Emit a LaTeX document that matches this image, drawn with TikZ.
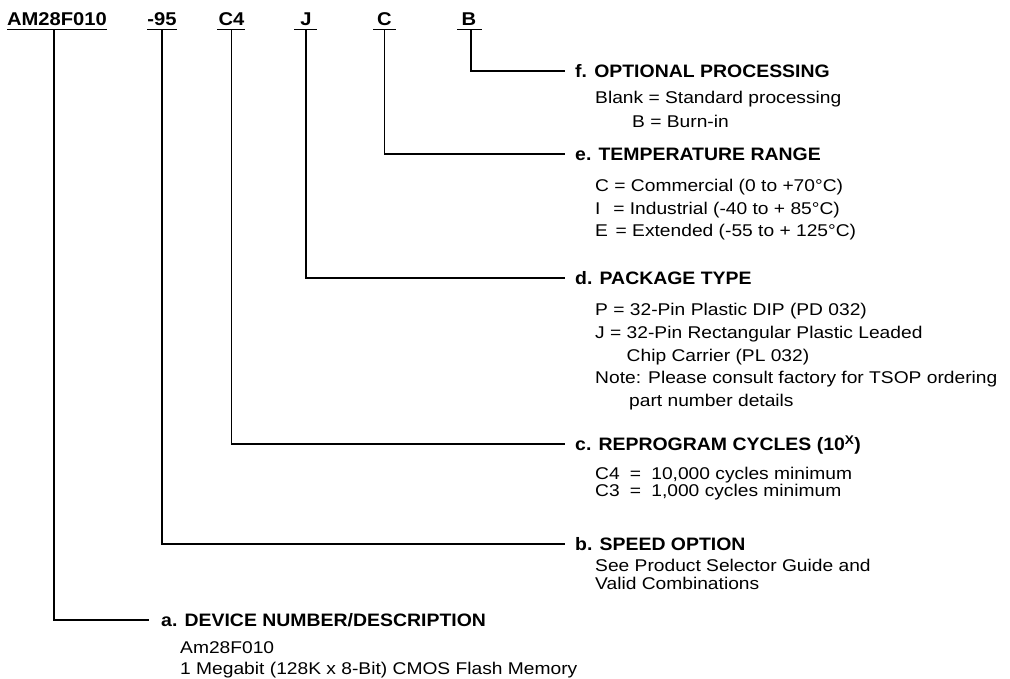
\documentclass[tikz,border=0pt]{standalone}
\usepackage{fontspec}
\setmainfont{Liberation Sans}
\newfontfamily\bodyfont{Liberation Sans}[FakeStretch=1.13]
\newfontfamily\headfont{Liberation Sans}[FakeStretch=1.08]
\newfontfamily\codefont{Liberation Sans}[FakeStretch=1.09]
\begin{document}
\begin{tikzpicture}[x=1pt,y=-1pt,
  code/.style={font=\codefont\bfseries\fontsize{18.5}{20}\selectfont, inner sep=0pt, text height=13.2pt, text depth=0pt, anchor=center},
  head/.style={font=\headfont\bfseries\fontsize{18}{20}\selectfont, inner sep=0pt, text height=12.9pt, text depth=0pt, anchor=west},
  body/.style={font=\bodyfont\fontsize{17}{19}\selectfont, inner sep=0pt, text height=12.2pt, text depth=0pt, anchor=west},
  lead/.style={line width=1.7pt, line cap=rect},
  uline/.style={line width=1.7pt}]
\useasboundingbox (0,0) rectangle (1010,678);

% part-number codes
\node[code] (cA)  at (57,18.5)    {AM28F010};
\node[code] (c95) at (162,18.5)   {-95};
\node[code] (cC4) at (231.5,18.5) {C4};
\node[code] (cJ)  at (306,18.5)   {J};
\node[code] (cC)  at (384.5,18.5) {C};
\node[code] (cB)  at (469,18.5)   {B};

% underlines
\coordinate (uA1) at (7,29.5);   \coordinate (uA2) at (107,29.5);
\coordinate (u951) at (147,29.5); \coordinate (u952) at (177,29.5);
\coordinate (uC41) at (217,29.5); \coordinate (uC42) at (245,29.5);
\coordinate (uJ1) at (294,29.5);  \coordinate (uJ2) at (317,29.5);
\coordinate (uC1) at (373,29.5);  \coordinate (uC2) at (396,29.5);
\coordinate (uB1) at (457,29.5);  \coordinate (uB2) at (482,29.5);
\draw[uline] (uA1) -- (uA2);
\draw[uline] (u951) -- (u952);
\draw[uline] (uC41) -- (uC42);
\draw[uline] (uJ1) -- (uJ2);
\draw[uline] (uC1) -- (uC2);
\draw[uline] (uB1) -- (uB2);

% junction points
\coordinate (jA) at (54,29.5);
\coordinate (j95) at (162,29.5);
\coordinate (jC4) at (231.5,29.5);
\coordinate (jJ) at (306,29.5);
\coordinate (jC) at (384.5,29.5);
\coordinate (jB) at (471,29.5);

% headers
\node[head] (hf) at (575,71)  {f. OPTIONAL PROCESSING};
\node[head] (he) at (575,154) {e. TEMPERATURE RANGE};
\node[head] (hd) at (575,278) {d. PACKAGE TYPE};
\node[head] (hc) at (575,444) {c. REPROGRAM CYCLES (10\textsuperscript{X})};
\node[head] (hb) at (575,544) {b. SPEED OPTION};
\node[head] (ha) at (161,620) {a. DEVICE NUMBER/DESCRIPTION};

% descriptions
\node[body] (f1) at (595,97)  {Blank = Standard processing};
\node[body] (f2) at (632,121) {B = Burn-in};
\node[body] (e1) at (595,185) {C = Commercial (0 to +70°C)};
\node[body] (e2) at (595,208) {I\hspace{0.75em}= Industrial (-40 to + 85°C)};
\node[body] (e3) at (595,230) {E\hspace{0.45em}= Extended (-55 to + 125°C)};
\node[body] (d1) at (595,309) {P = 32-Pin Plastic DIP (PD 032)};
\node[body] (d2) at (595,332) {J = 32-Pin Rectangular Plastic Leaded};
\node[body] (d3) at (595,355) {\hphantom{J = }Chip Carrier (PL 032)};
\node[body] (d4) at (595,377) {Note: Please consult factory for TSOP ordering};
\node[body] (d5) at (629,400) {part number details};
\node[body] (c1) at (595,473) {C4\hspace{0.6em}=\hspace{0.6em}10,000 cycles minimum};
\node[body] (c2) at (595,490) {C3\hspace{0.6em}=\hspace{0.6em}1,000 cycles minimum};
\node[body] (b1) at (595,565) {See Product Selector Guide and};
\node[body] (b2) at (595,583) {Valid Combinations};
\node[body] (a1) at (180,647) {Am28F010};
\node[body] (a2) at (180,668) {1 Megabit (128K x 8-Bit) CMOS Flash Memory};

% leaders
\draw[lead] (jB)  |- ([xshift=-11pt]hf.west);
\draw[lead] (jC)  |- ([xshift=-11pt]he.west);
\draw[lead] (jJ)  |- ([xshift=-11pt]hd.west);
\draw[lead] (jC4) |- ([xshift=-11pt]hc.west);
\draw[lead] (j95) |- ([xshift=-11pt]hb.west);
\draw[lead] (jA)  |- ([xshift=-13pt]ha.west);
\end{tikzpicture}
\end{document}
